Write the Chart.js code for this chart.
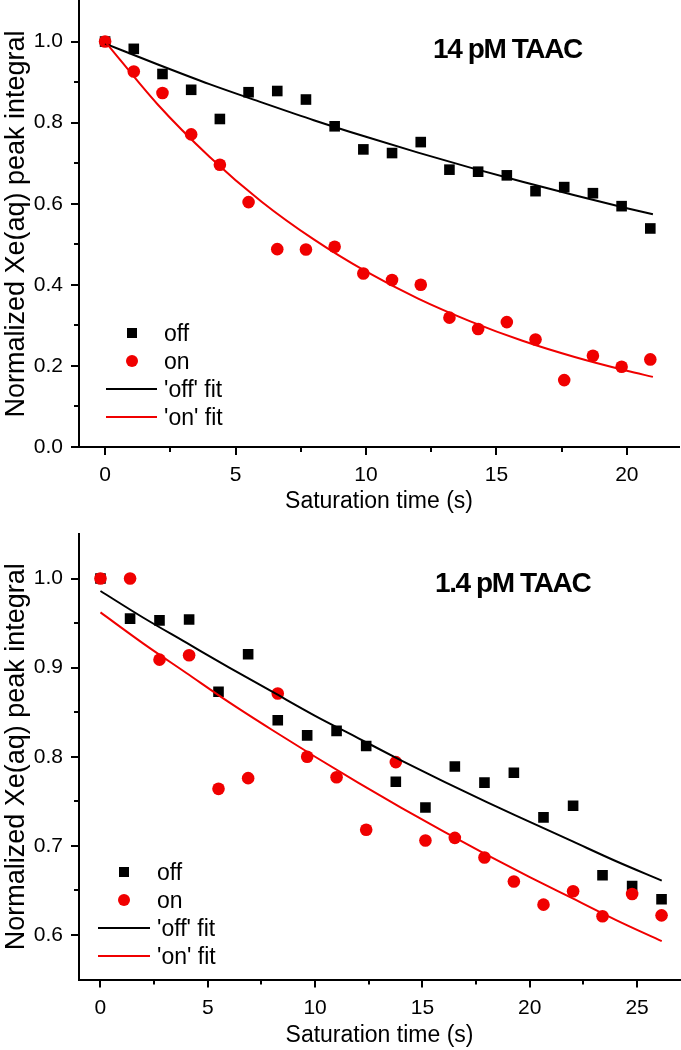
<!DOCTYPE html>
<html>
<head>
<meta charset="utf-8">
<script src="https://cdn.jsdelivr.net/npm/chart.js@4.4.1/dist/chart.umd.min.js"></script>
<style>
html,body{margin:0;padding:0;background:#fff;}
#wrap{position:relative;width:681px;height:1050px;overflow:hidden;font-family:'Liberation Sans',Arial,sans-serif;color:#000;}
canvas{position:absolute;left:0;}
.note{position:absolute;font-weight:bold;font-size:28px;line-height:28px;letter-spacing:-1.4px;white-space:nowrap;}
.lrow{position:absolute;height:24px;white-space:nowrap;}
.ltext{position:absolute;top:0;font-size:23px;line-height:24px;}
.sq{position:absolute;width:10px;height:10px;background:#000;}
.ci{position:absolute;width:12px;height:12px;border-radius:50%;background:#f00000;}
.ln{position:absolute;height:2px;}
</style>
</head>
<body>
<div id="wrap">
  <canvas id="c1" width="681" height="520" style="top:0"></canvas>
  <canvas id="c2" width="681" height="530" style="top:520px"></canvas>
  <div class="note" style="left:433px;top:35px;">14 pM TAAC</div>
  <div class="note" style="left:435px;top:569px;">1.4 pM TAAC</div>
</div>
<script>
// ---------- data: top panel (14 pM TAAC) ----------
const topTime = [0, 1.1, 2.2, 3.3, 4.4, 5.5, 6.6, 7.7, 8.8, 9.9, 11.0, 12.1, 13.2, 14.3, 15.4, 16.5, 17.6, 18.7, 19.8, 20.9];
const topOff  = [1.0, 0.982, 0.920, 0.881, 0.809, 0.875, 0.878, 0.857, 0.791, 0.734, 0.725, 0.752, 0.684, 0.679, 0.670, 0.631, 0.641, 0.626, 0.594, 0.539];
const topOn   = [1.0, 0.926, 0.873, 0.771, 0.696, 0.604, 0.488, 0.487, 0.494, 0.428, 0.412, 0.400, 0.319, 0.291, 0.308, 0.265, 0.165, 0.225, 0.198, 0.216];
const topFitTime = [0, 2, 4, 6, 8, 10, 12, 14, 16, 18, 20, 21];
const topOffFit  = [0.995, 0.944, 0.895, 0.850, 0.806, 0.765, 0.726, 0.689, 0.654, 0.621, 0.589, 0.574];
const topOnFit   = [1.0, 0.846, 0.716, 0.605, 0.512, 0.433, 0.366, 0.310, 0.262, 0.222, 0.188, 0.173];

// ---------- data: bottom panel (1.4 pM TAAC) ----------
const botTime = [0, 1.38, 2.75, 4.13, 5.5, 6.88, 8.26, 9.63, 11.0, 12.38, 13.76, 15.14, 16.51, 17.89, 19.26, 20.64, 22.02, 23.39, 24.77, 26.14];
const botOff  = [1.0, 0.955, 0.953, 0.954, 0.873, 0.915, 0.841, 0.824, 0.829, 0.812, 0.772, 0.743, 0.789, 0.771, 0.782, 0.732, 0.745, 0.667, 0.655, 0.640];
const botOn   = [1.0, 1.0, 0.909, 0.914, 0.764, 0.776, 0.871, 0.800, 0.777, 0.718, 0.794, 0.706, 0.709, 0.687, 0.660, 0.634, 0.649, 0.621, 0.646, 0.622];
const botFitTime = [0, 2, 4, 6, 8, 10, 12, 14, 16, 18, 20, 22, 24, 26.15];
const botOffFit  = [0.986, 0.956, 0.928, 0.900, 0.873, 0.846, 0.821, 0.796, 0.772, 0.749, 0.727, 0.705, 0.683, 0.661];
const botOnFit   = [0.962, 0.927, 0.894, 0.861, 0.830, 0.800, 0.771, 0.743, 0.716, 0.690, 0.665, 0.641, 0.617, 0.593];

// ---------- ticks ----------
const topXMajor = [0, 5, 10, 15, 20];
const topXMinor = [2.5, 7.5, 12.5, 17.5];
const topYMajor = [0, 0.2, 0.4, 0.6, 0.8, 1.0];
const topYMinor = [0.1, 0.3, 0.5, 0.7, 0.9];
const botXMajor = [0, 5, 10, 15, 20, 25];
const botXMinor = [2.5, 7.5, 12.5, 17.5, 22.5];
const botYMajor = [0.6, 0.7, 0.8, 0.9, 1.0];
const botYMinor = [0.65, 0.75, 0.85, 0.95];

const legendLabels = ['off', 'on', "'off' fit", "'on' fit"];
const xTitle = 'Saturation time (s)';
const yTitle = 'Normalized Xe(aq) peak integral';

const BLACK = '#000000';
const RED = '#f00000';
const FONT = "'Liberation Sans', Arial, sans-serif";

Chart.defaults.font.family = FONT;
Chart.defaults.color = BLACK;

const pts = (xs, ys) => xs.map((x, i) => ({x: x, y: ys[i]}));

const tickPlugin = {
  id: 'axisTicks',
  afterDraw(chart, args, o) {
    const ctx = chart.ctx, xs = chart.scales.x, ys = chart.scales.y;
    const ax = ys.right, ay = xs.top;
    ctx.save();
    ctx.strokeStyle = BLACK;
    ctx.lineWidth = 2;
    ctx.beginPath();
    const xt = (vals, len) => vals.forEach(v => { const p = Math.round(xs.getPixelForValue(v)); ctx.moveTo(p, ay); ctx.lineTo(p, ay + len); });
    const yt = (vals, len) => vals.forEach(v => { const p = Math.round(ys.getPixelForValue(v)); ctx.moveTo(ax, p); ctx.lineTo(ax - len, p); });
    xt(o.xMajor, 8); xt(o.xMinor, 5);
    yt(o.yMajor, 8); yt(o.yMinor, 5);
    ctx.stroke();
    ctx.restore();
  }
};

function noPad(s) { s.paddingTop = 0; s.paddingBottom = 0; s.paddingLeft = 0; s.paddingRight = 0; }

function makeChart(id, cfg) {
  return new Chart(document.getElementById(id), {
    type: 'scatter',
    data: {
      datasets: [
        {label: legendLabels[0], data: pts(cfg.time, cfg.off), pointStyle: 'rect', pointRadius: 7.5, pointBackgroundColor: BLACK, pointBorderWidth: 0, showLine: false, order: 4},
        {label: legendLabels[1], data: pts(cfg.time, cfg.on), pointStyle: 'circle', pointRadius: 6.3, pointBackgroundColor: RED, pointBorderWidth: 0, showLine: false, order: 3},
        {label: legendLabels[2], data: pts(cfg.fitTime, cfg.offFit), showLine: true, pointRadius: 0, borderColor: BLACK, borderWidth: 2, cubicInterpolationMode: 'monotone', order: 2},
        {label: legendLabels[3], data: pts(cfg.fitTime, cfg.onFit), showLine: true, pointRadius: 0, borderColor: RED, borderWidth: 2, cubicInterpolationMode: 'monotone', order: 1}
      ]
    },
    options: {
      responsive: false,
      animation: false,
      layout: {padding: cfg.pad, autoPadding: false},
      plugins: {legend: {display: false}, tooltip: {enabled: false}, axisTicks: cfg.ticks},
      scales: {
        x: {
          type: 'linear', min: cfg.xmin, max: cfg.xmax,
          afterBuildTicks: s => { s.ticks = cfg.ticks.xMajor.map(v => ({value: v})); },
          afterFit: s => { s.height = cfg.xH; noPad(s); },
          grid: {display: false, drawTicks: false},
          border: {display: true, color: BLACK, width: 2},
          ticks: {padding: cfg.xPad, font: {size: 21}, color: BLACK, maxRotation: 0, callback: v => String(v)},
          title: {display: true, text: xTitle, font: {size: 23}, color: BLACK, padding: {top: 0, bottom: cfg.xTitlePad}}
        },
        y: {
          type: 'linear', min: cfg.ymin, max: cfg.ymax,
          afterBuildTicks: s => { s.ticks = cfg.ticks.yMajor.map(v => ({value: v})); },
          afterFit: s => { s.width = 79; noPad(s); },
          grid: {display: false, drawTicks: false},
          border: {display: true, color: BLACK, width: 2},
          ticks: {padding: 16, font: {size: 21}, color: BLACK, callback: v => Number(v).toFixed(1)},
          title: {display: true, text: yTitle, font: {size: 27}, color: BLACK, padding: {top: 0, bottom: 0}}
        }
      }
    },
    plugins: [tickPlugin]
  });
}

makeChart('c1', {
  time: topTime, off: topOff, on: topOn, fitTime: topFitTime, offFit: topOffFit, onFit: topOnFit,
  xmin: -1, xmax: 22, ymin: 0, ymax: 1.1,
  pad: {top: 1, right: 2, left: 0, bottom: 0}, xH: 73, xPad: 16, xTitlePad: 5,
  ticks: {xMajor: topXMajor, xMinor: topXMinor, yMajor: topYMajor, yMinor: topYMinor}
});
makeChart('c2', {
  time: botTime, off: botOff, on: botOn, fitTime: botFitTime, offFit: botOffFit, onFit: botOnFit,
  xmin: -1, xmax: 27, ymin: 0.55, ymax: 1.05,
  pad: {top: 14, right: 1, left: 0, bottom: 0}, xH: 70.5, xPad: 16, xTitlePad: 1,
  ticks: {xMajor: botXMajor, xMinor: botXMinor, yMajor: botYMajor, yMinor: botYMinor}
});

// ---------- legends (HTML) ----------
function legend(symX, lx1, lx2, textX, rows) {
  const wrap = document.getElementById('wrap');
  const kinds = ['sq', 'ci', 'lnb', 'lnr'];
  rows.forEach((cy, i) => {
    const row = document.createElement('div');
    row.className = 'lrow';
    row.style.left = '0px';
    row.style.top = (cy - 12) + 'px';
    row.style.width = '300px';
    const k = kinds[i];
    const sym = document.createElement('div');
    if (k === 'sq') { sym.className = 'sq'; sym.style.left = (symX - 5) + 'px'; sym.style.top = '7px'; }
    else if (k === 'ci') { sym.className = 'ci'; sym.style.left = (symX - 6) + 'px'; sym.style.top = '6px'; }
    else { sym.className = 'ln'; sym.style.left = lx1 + 'px'; sym.style.width = (lx2 - lx1) + 'px'; sym.style.top = '11px'; sym.style.background = k === 'lnb' ? BLACK : RED; }
    row.appendChild(sym);
    const t = document.createElement('div');
    t.className = 'ltext';
    t.style.left = textX + 'px';
    t.textContent = legendLabels[i];
    row.appendChild(t);
    wrap.appendChild(row);
  });
}
legend(132, 106, 157, 164, [333, 361, 389, 417]);
legend(124, 98, 150, 157, [872, 900, 928, 956]);
</script>
</body>
</html>
